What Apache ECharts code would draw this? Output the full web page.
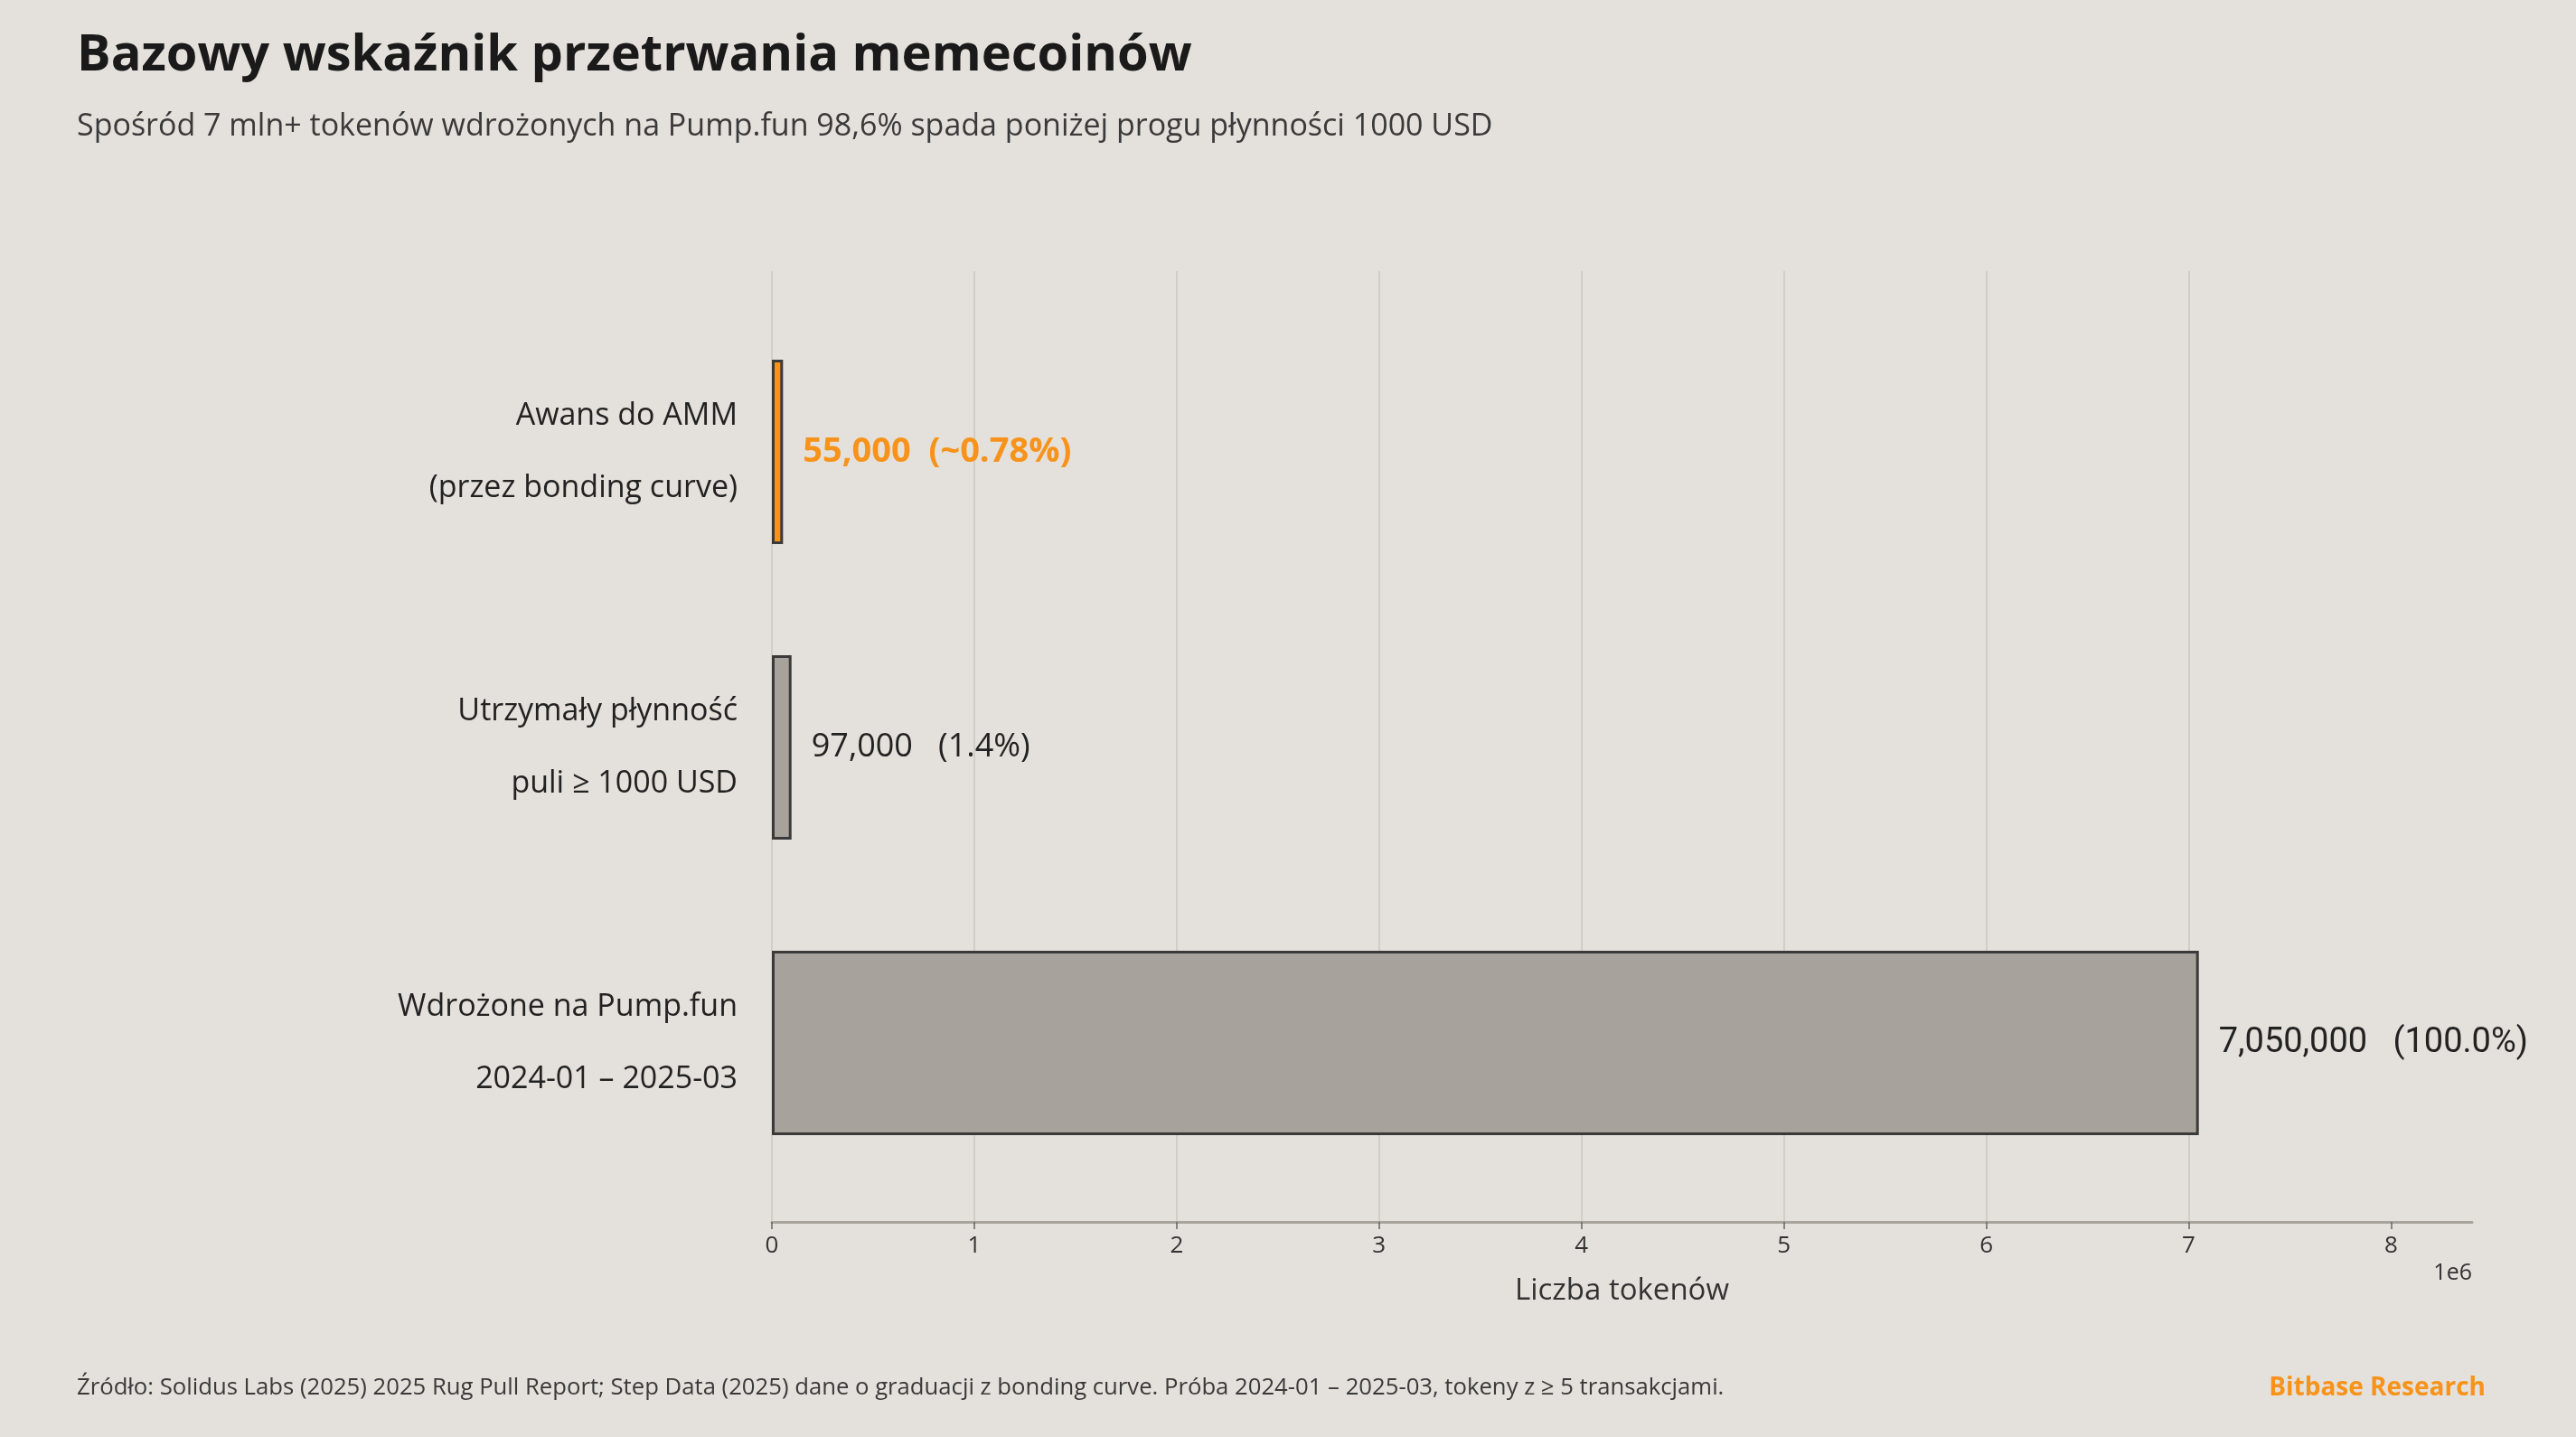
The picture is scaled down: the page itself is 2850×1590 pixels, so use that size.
<!DOCTYPE html>
<html>
<head>
<meta charset="utf-8">
<script src="https://cdn.jsdelivr.net/npm/echarts@6/dist/echarts.min.js"></script>
<style>
  html, body { margin: 0; padding: 0; background: #e4e0db; }
  #chart { width: 2850px; height: 1590px; }
</style>
</head>
<body>
<div id="chart"></div>
<script>
// dane (od dołu do góry, jak w osi kategorii)
const categories = ['Wdrożone na Pump.fun\n2024-01 – 2025-03', 'Utrzymały płynność\npuli ≥ 1000 USD', 'Awans do AMM\n(przez bonding curve)'];
const tokenCounts = [7050000, 97000, 55000];
const shareLabels = ['(100.0%)', '(1.4%)', '(~0.78%)'];
const countLabels = ['7,050,000', '97,000', '55,000'];
const labelGaps = ['   ', '   ', '  '];
const xTicks = [0, 1e6, 2e6, 3e6, 4e6, 5e6, 6e6, 7e6, 8e6];

const ORANGE = '#f7931a';
const GREY = '#a7a29b';
const FONT = '"Open Sans", sans-serif';

let chart = echarts.init(document.getElementById('chart'));

var option = {
  backgroundColor: '#e4e0db',
  animation: false,
  textStyle: { fontFamily: FONT },
  grid: [
    // siatka + oś X
    { left: 854, right: 115, top: 300, bottom: 238 },
    // słupki
    { left: 854, right: 115, top: 336.5, height: 981 }
  ],
  xAxis: [
    {
      gridIndex: 0, type: 'value', min: 0, max: 8.4e6,
      name: 'Liczba tokenów', nameLocation: 'middle', nameGap: 60,
      nameTextStyle: { fontSize: 33, color: '#333', fontFamily: FONT },
      axisLine: { show: true, lineStyle: { color: '#a8a39c', width: 3 } },
      axisTick: { show: true, length: 8, customValues: xTicks, lineStyle: { color: '#666', width: 1.5 } },
      axisLabel: {
        customValues: xTicks, margin: 14, fontSize: 26, color: '#333', fontFamily: FONT,
        formatter: v => String(Math.round(v / 1e6))
      },
      splitLine: { show: true, showMaxLine: false, lineStyle: { color: '#d2cdc7', width: 2 } }
    },
    {
      gridIndex: 1, type: 'value', min: 0, max: 8.4e6, show: false
    }
  ],
  yAxis: [
    { gridIndex: 0, type: 'value', show: false, min: 0, max: 1 },
    {
      gridIndex: 1, type: 'category', data: categories,
      axisLine: { show: false }, axisTick: { show: false },
      axisLabel: { margin: 38, fontSize: 34, lineHeight: 80, color: '#222', fontFamily: FONT, align: 'right' }
    }
  ],
  series: [
    {
      type: 'bar', xAxisIndex: 1, yAxisIndex: 1, barWidth: 204,
      data: tokenCounts.map((v, i) => ({
        value: v,
        itemStyle: { color: i === 2 ? ORANGE : GREY, borderColor: '#3a3a3a', borderWidth: 3 },
        label: {
          show: true, position: 'right', distance: 22,
          formatter: countLabels[i] + labelGaps[i] + shareLabels[i],
          fontSize: [38, 36, 38][i],
          fontWeight: i === 2 ? 'bold' : 'normal',
          fontFamily: i === 0 ? 'Roboto, sans-serif' : FONT,
          color: i === 2 ? ORANGE : '#222'
        }
      }))
    }
  ],
  graphic: [
    { type: 'text', x: 85, y: 62, style: { text: 'Bazowy wskaźnik przetrwania memecoinów', fontSize: 56, fontWeight: 'bold', fontFamily: FONT, fill: '#1a1a1a', verticalAlign: 'middle' } },
    { type: 'text', x: 85, y: 140, style: { text: 'Spośród 7 mln+ tokenów wdrożonych na Pump.fun 98,6% spada poniżej progu płynności 1000 USD', fontSize: 34, fontFamily: FONT, fill: '#3a3a3a', verticalAlign: 'middle' } },
    { type: 'text', x: 2735, y: 1409, style: { text: '1e6', fontSize: 25, fontFamily: FONT, fill: '#333', align: 'right', verticalAlign: 'middle' } },
    { type: 'text', x: 85, y: 1536, style: { text: 'Źródło: Solidus Labs (2025) 2025 Rug Pull Report; Step Data (2025) dane o graduacji z bonding curve. Próba 2024-01 – 2025-03, tokeny z ≥ 5 transakcjami.', fontSize: 25.7, fontFamily: FONT, fill: '#3a3a3a', verticalAlign: 'middle' } },
    { type: 'text', x: 2750, y: 1536, style: { text: 'Bitbase Research', fontSize: 28, fontWeight: 'bold', fontFamily: FONT, fill: ORANGE, align: 'right', verticalAlign: 'middle' } }
  ]
};

chart.setOption(option);
</script>
</body>
</html>
